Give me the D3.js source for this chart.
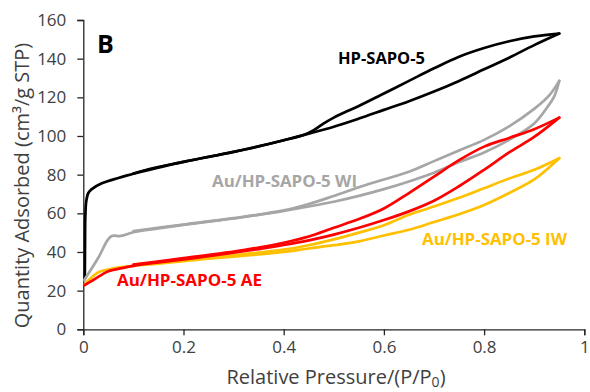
<!DOCTYPE html>
<html>
<head>
<meta charset="utf-8">
<script src="https://cdn.jsdelivr.net/npm/d3@7"></script>
<style>
  body { margin: 0; background: #fff; }
  text { font-family: "Open Sans", "Noto Sans", sans-serif; }
</style>
</head>
<body>
<div id="chart"></div>
<script>
// svg size, same as the picture
const svg_width = 590;
const svg_height = 392;

// axis ticks
const xTicks = [0, 0.2, 0.4, 0.6, 0.8, 1];
const yTicks = [0, 20, 40, 60, 80, 100, 120, 140, 160];

// isotherm branches, [P/P0, quantity adsorbed]
const hpAds = [[0.003,26],[0.0035,45],[0.004,58],[0.006,66.5],[0.01,70.5],[0.017,72.5],[0.037,75.5],[0.07,78.3],
  [0.1,80.5],[0.13,82.8],[0.2,86.6],[0.25,89.2],[0.3,91.8],[0.35,94.6],[0.4,97.8],[0.45,101.2],[0.5,104.8],
  [0.55,109],[0.6,113.5],[0.65,118],[0.7,123],[0.75,128.5],[0.8,134.5],[0.85,140.5],[0.9,147],[0.95,153]];
const hpDes = [[0.1,80.5],[0.2,86.6],[0.3,91.8],[0.4,97.8],[0.44,100.5],[0.46,103],[0.48,106.5],[0.5,109.5],
  [0.52,112],[0.55,115.5],[0.6,122],[0.65,128.5],[0.7,135],[0.75,141],[0.8,145.5],[0.85,149],[0.9,151.5],[0.95,153]];

const wiAds = [[0.002,25.5],[0.03,37],[0.055,48],[0.075,48.3],[0.1,50.2],[0.15,52.2],[0.2,54],[0.25,55.7],
  [0.3,57.3],[0.35,59.2],[0.4,61.2],[0.45,63.5],[0.5,66],[0.55,69],[0.6,72.5],[0.65,76.5],[0.7,81],
  [0.75,86.5],[0.8,91.5],[0.85,98],[0.9,106.5],[0.925,114.5],[0.94,120.5],[0.95,128.5]];
const wiDes = [[0.1,50.8],[0.2,54.2],[0.3,57.5],[0.4,61.5],[0.45,64.8],[0.5,69],[0.55,73.5],[0.6,77.5],
  [0.65,81.5],[0.7,87],[0.75,92.5],[0.8,98],[0.85,105],[0.9,114],[0.93,121],[0.95,128.5]];

const iwAds = [[0.002,23],[0.015,26.5],[0.03,29.5],[0.06,31.5],[0.1,32.8],[0.15,34],[0.2,35.3],[0.25,36.5],
  [0.3,37.6],[0.35,38.8],[0.4,40],[0.45,41.8],[0.5,43.5],[0.55,45.5],[0.6,48.5],[0.65,51.5],[0.7,55.5],
  [0.75,59.5],[0.8,64.3],[0.85,70.5],[0.9,77.5],[0.95,88.5]];
const iwDes = [[0.1,33.5],[0.2,36],[0.3,38.3],[0.4,41.2],[0.45,43.5],[0.5,46.5],[0.55,50],[0.6,53.8],
  [0.65,59.3],[0.7,63.5],[0.75,68],[0.8,73],[0.85,78],[0.9,82.5],[0.95,88.5]];

const aeAds = [[0.002,22.8],[0.02,25.5],[0.05,30],[0.08,31.8],[0.1,32.8],[0.15,34.6],[0.2,36.2],[0.25,37.8],
  [0.3,39.6],[0.35,41.5],[0.4,43.6],[0.45,46],[0.5,49],[0.55,52.5],[0.6,56.5],[0.65,61],[0.7,66.5],
  [0.75,74],[0.8,82.5],[0.85,91.5],[0.9,99.5],[0.95,109.5]];
const aeDes = [[0.1,33.5],[0.2,36.8],[0.3,40.2],[0.35,42.3],[0.4,44.8],[0.45,48],[0.5,52.5],[0.55,57],
  [0.6,62.5],[0.65,70.5],[0.7,79],[0.75,87.5],[0.8,94.5],[0.85,99],[0.9,103.5],[0.95,109.5]];

// samples in drawing order
const sampleNames = ["HP-SAPO-5", "Au/HP-SAPO-5 WI", "Au/HP-SAPO-5 IW", "Au/HP-SAPO-5 AE"];
const sampleColors = ["#000000", "#a6a6a6", "#ffc000", "#ff0000"];
const sampleBranches = [[hpAds, hpDes], [wiAds, wiDes], [iwAds, iwDes], [aeAds, aeDes]];

let svg = d3.select("#chart")
  .append("svg")
    .attr("width", svg_width)
    .attr("height", svg_height)

let x = d3.scaleLinear().domain([0, 1]).range([83.3, 584.3]);
let y = d3.scaleLinear().domain([0, 160]).range([329.3, 20]);

// axes
let xAxis = svg.append("g")
    .attr("transform", "translate(0," + y(0) + ")")
    .call(d3.axisBottom(x).tickValues(xTicks).tickFormat(d3.format("")).tickSizeOuter(0).tickSize(6).tickPadding(6));
let yAxis = svg.append("g")
    .attr("transform", "translate(" + x(0) + ",0)")
    .call(d3.axisLeft(y).tickValues(yTicks).tickSizeOuter(0).tickSize(6).tickPadding(11));

[xAxis, yAxis].forEach(a => {
  a.select(".domain").attr("stroke", "#262626").attr("stroke-width", 1.3);
  a.selectAll(".tick line").attr("stroke", "#262626").attr("stroke-width", 1.3);
  a.selectAll(".tick text").attr("fill", "#404040").style("font-size", "17px");
});

// curves
const line = d3.line()
    .x(d => x(d[0]))
    .y(d => y(d[1]))
    .curve(d3.curveCatmullRom.alpha(0.5));

for (let i = 0; i < sampleNames.length; i++) {
  sampleBranches[i].forEach(branch => {
    svg.append("path")
        .datum(branch)
        .attr("d", line)
        .attr("fill", "none")
        .attr("stroke", sampleColors[i])
        .attr("stroke-width", 2.7)
        .attr("stroke-linejoin", "round")
        .attr("stroke-linecap", "round");
  });
}

// sample labels: name index, left x, baseline y, width
const labelSpots = [[0, 338, 64, 87], [1, 212, 187, 145], [2, 422, 245, 145], [3, 117, 286, 145]];
labelSpots.forEach(s => {
  svg.append("text")
      .attr("x", s[1])
      .attr("y", s[2])
      .attr("fill", sampleColors[s[0]])
      .attr("font-weight", "bold")
      .attr("font-size", 16)
      .attr("textLength", s[3])
      .attr("lengthAdjust", "spacingAndGlyphs")
      .text(sampleNames[s[0]]);
});

// panel letter
svg.append("text")
    .attr("x", 97)
    .attr("y", 53)
    .attr("font-weight", "bold")
    .attr("font-size", 25)
    .attr("fill", "#000")
    .text("B");

// axis titles
let xTitle = svg.append("text")
    .attr("x", 336)
    .attr("y", 384)
    .attr("text-anchor", "middle")
    .attr("font-size", 20)
    .attr("fill", "#404040");
xTitle.append("tspan").text("Relative Pressure/(P/P");
xTitle.append("tspan").attr("font-size", 14).attr("dy", 3).text("0");
xTitle.append("tspan").attr("dy", -3).text(")");

svg.append("text")
    .attr("transform", "translate(29,185.5) rotate(-90)")
    .attr("text-anchor", "middle")
    .attr("font-size", 20)
    .attr("fill", "#404040")
    .text("Quantity Adsorbed (cm³/g STP)");
</script>
</body>
</html>
